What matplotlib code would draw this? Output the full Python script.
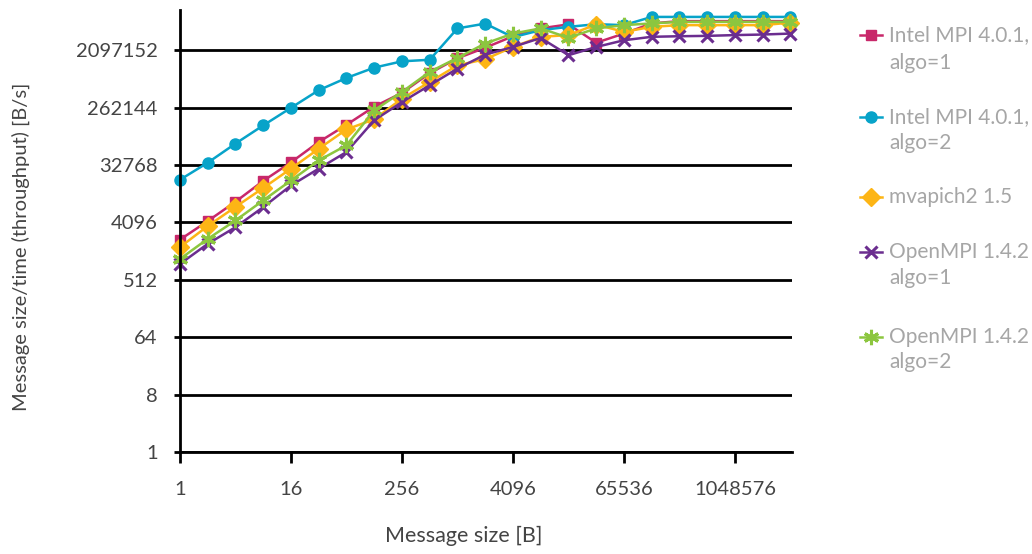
import matplotlib
matplotlib.use("Agg")
import matplotlib.pyplot as plt
from matplotlib.lines import Line2D

# message sizes 1 B .. 4 MB
msg_size = [1, 2, 4, 8, 16, 32, 64, 128, 256, 512, 1024, 2048, 4096, 8192,
            16384, 32768, 65536, 131072, 262144, 524288, 1048576, 2097152, 4194304]

# throughput [B/s]
intel_algo1 = [2195, 4300, 8660, 18440, 36100, 75300, 140500, 271400, 447400, 913000,
               1567000, 2295000, 3479000, 4622000, 5348000, 2748000, 3833000, 5536000,
               6015000, 6015000, 6015000, 6015000, 6015000]
intel_algo2 = [19220, 35620, 71240, 137600, 260300, 492300, 767600, 1115700, 1403000, 1483000,
               4622000, 5499000, 3360000, 4342000, 4887000, 5385000, 5201000, 7005000,
               7005000, 7005000, 7005000, 7005000, 7005000]
mvapich = [1675, 3590, 7180, 14260, 28720, 59080, 118900, 171800, 363100, 663700,
           1213000, 1514000, 2359000, 3408000, 3626000, 5310000, 4079000, 4887000,
           5201000, 5201000, 5201000, 5201000, 5692000]
openmpi_algo1 = [910, 1884, 3444, 7131, 15610, 28720, 52500, 165900, 320600, 589800,
                 1078000, 1788000, 2359000, 3268000, 1751000, 2359000, 3007000, 3408000,
                 3479000, 3527000, 3626000, 3700000, 3833000]
openmpi_algo2 = [1090, 2257, 4390, 9093, 18700, 38700, 66900, 237900, 462700, 958400,
                 1589000, 2674000, 3833000, 4622000, 3291000, 4622000, 5201000, 5536000,
                 5851000, 5851000, 5851000, 5851000, 5851000]

x_ticks = [1, 16, 256, 4096, 65536, 1048576]
y_ticks = [1, 8, 64, 512, 4096, 32768, 262144, 2097152]

series = [
    (["Intel MPI 4.0.1,", "algo=1"], intel_algo1, "#c8286a", "s", 7, 0),
    (["Intel MPI 4.0.1,", "algo=2"], intel_algo2, "#07a3c9", "o", 8, 0),
    (["mvapich2 1.5"], mvapich, "#fdb515", "D", 9, 0),
    (["OpenMPI 1.4.2", "algo=1"], openmpi_algo1, "#6b2d8f", "x", 9, 2.2),
    (["OpenMPI 1.4.2", "algo=2"], openmpi_algo2, "#8cc63f", (6, 2, 0), 11, 2.2),
]
legend_y = [[35, 63], [117, 143], [197], [252, 278], [337, 362]]

plt.rcParams['font.family'] = ['Lato', 'DejaVu Sans']

fig = plt.figure(figsize=(10.32, 5.54), dpi=100)
ax = fig.add_axes([180 / 1032, 102 / 554, 612 / 1032, 442 / 554])

for labels, vals, col, mk, ms, mew in series:
    kw = dict(color=col, lw=1.8, marker=mk, markersize=ms, clip_on=False)
    if mew:
        kw['markeredgewidth'] = mew
    ax.plot(msg_size, vals, **kw)

ax.set_xscale('log', base=2)
ax.set_yscale('log', base=2)
ax.set_xlim(1, 4194304 * 1.04)
ax.set_ylim(1, 9.0e6)
ax.set_xticks(x_ticks)
ax.set_xticklabels([str(v) for v in x_ticks])
ax.set_yticks(y_ticks)
ax.set_yticklabels([str(v) for v in y_ticks])
ax.minorticks_off()

for s in ['top', 'right']:
    ax.spines[s].set_visible(False)
for s in ['left', 'bottom']:
    ax.spines[s].set_linewidth(2.0)
    ax.spines[s].set_color('black')
ax.yaxis.grid(True, color='black', lw=2.0)
ax.set_axisbelow(True)
ax.tick_params(axis='y', length=4, width=2.0, pad=12, labelsize=14.5, labelcolor='#444444')
ax.tick_params(axis='x', length=8, width=2.0, pad=13, labelsize=14.5, labelcolor='#444444')

ax.set_xlabel("Message size [B]", fontsize=15.5, color='#444444')
ax.xaxis.set_label_coords(0.464, -0.168)
ax.set_ylabel("Message size/time (throughput) [B/s]", fontsize=14.5, color='#444444')
ax.yaxis.set_label_coords(-0.245, 0.465)

# legend, drawn by hand
for (labels, vals, col, mk, ms, mew), ys in zip(series, legend_y):
    yf = 1 - ys[0] / 554
    kw = dict(color=col, lw=1.8, marker=mk, markersize=ms, markevery=[1],
              transform=fig.transFigure)
    if mew:
        kw['markeredgewidth'] = mew
    fig.add_artist(Line2D([860 / 1032, 871 / 1032, 882 / 1032], [yf, yf, yf], **kw))
    for lab, y in zip(labels, ys):
        fig.text(889 / 1032, 1 - y / 554, lab, fontsize=15, color='#a6a6a6',
                 ha='left', va='center')

fig.savefig("out.png", dpi=100)
